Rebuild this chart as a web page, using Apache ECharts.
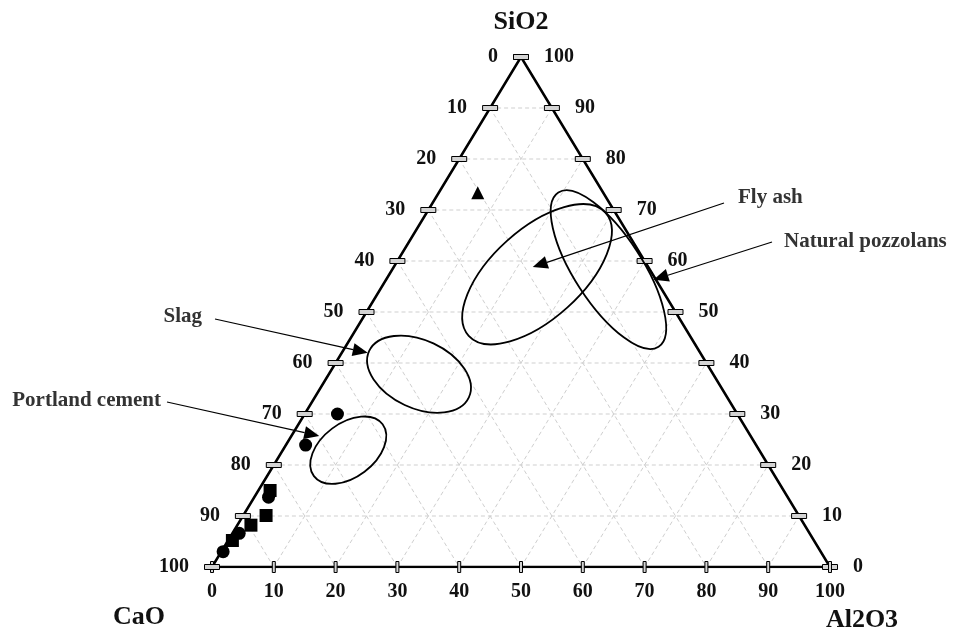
<!DOCTYPE html>
<html>
<head>
<meta charset="utf-8">
<script src="https://cdn.jsdelivr.net/npm/echarts@6/dist/echarts.min.js"></script>
<style>
html, body { margin: 0; padding: 0; background: #fff; }
#main { width: 954px; height: 634px; }
</style>
</head>
<body>
<div id="main"></div>
<script>
// ternary compositions are [CaO, SiO2, Al2O3] in %
var ticks = [0, 10, 20, 30, 40, 50, 60, 70, 80, 90, 100];
var gridSteps = [10, 20, 30, 40, 50, 60, 70, 80, 90];

var cementCircles = [[96.7, 3.0, 0.3], [92.3, 6.6, 1.1], [84.0, 13.7, 2.3], [72.9, 23.9, 3.2], [64.7, 30.0, 5.3]];
var cementSquares = [[94.1, 5.2, 0.7], [89.6, 8.2, 2.2], [86.2, 10.1, 3.7], [83.1, 15.0, 1.9]];
var triangleSamples = [[20.3, 73.4, 6.3]];

var zoneNames = ['Portland cement', 'Slag', 'Fly ash', 'Natural pozzolans'];
var zoneCenters = [[66.5, 22.9, 10.6], [47.6, 37.8, 14.6], [18.7, 57.4, 23.9], [6.7, 58.3, 35.0]];
var arrowTips = [[69.8, 25.7, 4.5], [53.8, 42.0, 4.2], [18.7, 58.8, 22.5], [0.4, 56.3, 43.3]];

// look of the zones: semi axes (px) and rotation (deg)
var zoneShapes = [[43, 27, 37], [55, 34, -25], [92, 45, 42], [92, 34, -57]];
// where the zone names sit (px) and where their arrows start
var labelLayout = [
    { text: [161, 401], align: 'right', start: [167, 402] },
    { text: [202, 317], align: 'right', start: [215, 319] },
    { text: [738, 198], align: 'left', start: [724, 203] },
    { text: [784, 242], align: 'left', start: [772, 242] }
];

var FONT = '"Liberation Serif", "Times New Roman", serif';

function tern(p) {
    var s = p[0] + p[1] + p[2];
    var si = p[1] / s * 100, al = p[2] / s * 100;
    return [al + si / 2, si];
}

function txt(x, y, text, font, color, align) {
    return {
        type: 'text', x: x, y: y,
        style: { text: text, font: font, fill: color, align: align, verticalAlign: 'middle', textAlign: align, textVerticalAlign: 'middle' }
    };
}

var chart = echarts.init(document.getElementById('main'));

var option = {
    animation: false,
    backgroundColor: '#fff',
    grid: { left: 212, right: 124, top: 57, bottom: 67 },
    xAxis: { type: 'value', min: 0, max: 100, show: false },
    yAxis: { type: 'value', min: 0, max: 100, show: false },
    graphic: [
        txt(521, 22, 'SiO2', 'bold 26px ' + FONT, '#111', 'center'),
        txt(139, 617, 'CaO', 'bold 26px ' + FONT, '#111', 'center'),
        txt(862, 620, 'Al2O3', 'bold 26px ' + FONT, '#111', 'center')
    ],
    series: [
        {   // dashed grid
            type: 'custom',
            z: 1,
            silent: true,
            data: [].concat(
                gridSteps.map(function (v) { return [v, 0]; }),
                gridSteps.map(function (v) { return [v, 1]; }),
                gridSteps.map(function (v) { return [v, 2]; })
            ),
            renderItem: function (params, api) {
                var v = api.value(0), k = api.value(1), a, b;
                if (k === 0) { a = tern([100 - v, v, 0]); b = tern([0, v, 100 - v]); }
                else if (k === 1) { a = tern([v, 100 - v, 0]); b = tern([v, 0, 100 - v]); }
                else { a = tern([100 - v, 0, v]); b = tern([0, 100 - v, v]); }
                var p1 = api.coord(a), p2 = api.coord(b);
                return {
                    type: 'line',
                    shape: { x1: p1[0], y1: p1[1], x2: p2[0], y2: p2[1] },
                    style: { stroke: '#cfcfcf', lineWidth: 1, lineDash: [4, 3] }
                };
            }
        },
        {   // triangle frame
            type: 'line',
            z: 2,
            silent: true,
            symbol: 'none',
            data: [tern([100, 0, 0]), tern([0, 100, 0]), tern([0, 0, 100]), tern([100, 0, 0])],
            lineStyle: { color: '#000', width: 2.5 }
        },
        {   // ticks and tick labels
            type: 'custom',
            z: 3,
            silent: true,
            data: ticks.map(function (v) { return [v, v]; }),
            renderItem: function (params, api) {
                var v = api.value(0);
                var L = api.coord(tern([v, 100 - v, 0]));
                var R = api.coord(tern([0, v, 100 - v]));
                var B = api.coord(tern([100 - v, 0, v]));
                var tickStyle = { fill: '#d4d4d4', stroke: '#000', lineWidth: 1 };
                var font = 'bold 20px ' + FONT;
                return {
                    type: 'group',
                    children: [
                        { type: 'rect', shape: { x: L[0] - 7.5, y: L[1] - 2.5, width: 15, height: 5 }, style: tickStyle },
                        { type: 'rect', shape: { x: R[0] - 7.5, y: R[1] - 2.5, width: 15, height: 5 }, style: tickStyle },
                        { type: 'rect', shape: { x: B[0] - 1.5, y: B[1] - 5.5, width: 3, height: 11 }, style: tickStyle },
                        txt(L[0] - 23, L[1], String(v), font, '#111', 'right'),
                        txt(R[0] + 23, R[1], String(v), font, '#111', 'left'),
                        txt(B[0], B[1] + 25, String(v), font, '#111', 'center')
                    ]
                };
            }
        },
        {   // zones
            type: 'custom',
            z: 4,
            silent: true,
            data: zoneCenters.map(function (p, i) { return tern(p).concat([i]); }),
            renderItem: function (params, api) {
                var i = api.value(2);
                var c = api.coord([api.value(0), api.value(1)]);
                var s = zoneShapes[i];
                return {
                    type: 'ellipse',
                    x: c[0], y: c[1],
                    rotation: s[2] * Math.PI / 180,
                    shape: { cx: 0, cy: 0, rx: s[0], ry: s[1] },
                    style: { fill: 'none', stroke: '#000', lineWidth: 1.8 }
                };
            }
        },
        {   // zone names and arrows
            type: 'custom',
            z: 5,
            silent: true,
            data: arrowTips.map(function (p, i) { return tern(p).concat([i]); }),
            renderItem: function (params, api) {
                var i = api.value(2);
                var tip = api.coord([api.value(0), api.value(1)]);
                var lay = labelLayout[i];
                var st = lay.start;
                var dx = tip[0] - st[0], dy = tip[1] - st[1];
                var len = Math.sqrt(dx * dx + dy * dy);
                var ux = dx / len, uy = dy / len;
                var bx = tip[0] - ux * 15, by = tip[1] - uy * 15;
                var nx = -uy * 6.5, ny = ux * 6.5;
                return {
                    type: 'group',
                    children: [
                        { type: 'line', shape: { x1: st[0], y1: st[1], x2: bx, y2: by }, style: { stroke: '#000', lineWidth: 1.2 } },
                        { type: 'polygon', shape: { points: [[tip[0], tip[1]], [bx + nx, by + ny], [bx - nx, by - ny]] }, style: { fill: '#000' } },
                        txt(lay.text[0], lay.text[1], zoneNames[i], 'bold 21px ' + FONT, '#333', lay.align)
                    ]
                };
            }
        },
        {
            type: 'scatter', z: 6, symbol: 'circle', symbolSize: 13,
            data: cementCircles.map(tern), itemStyle: { color: '#000', opacity: 1 }
        },
        {
            type: 'scatter', z: 6, symbol: 'rect', symbolSize: 13,
            data: cementSquares.map(tern), itemStyle: { color: '#000', opacity: 1 }
        },
        {
            type: 'scatter', z: 6, symbol: 'triangle', symbolSize: 13,
            data: triangleSamples.map(tern), itemStyle: { color: '#000', opacity: 1 }
        }
    ]
};

chart.setOption(option);
</script>
</body>
</html>
